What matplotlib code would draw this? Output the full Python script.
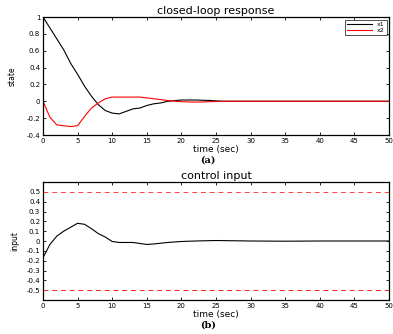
import matplotlib.pyplot as plt
import numpy as np

# closed-loop response
t_state = [0, 1, 2, 3, 4, 5, 6, 7, 8, 9, 10, 11, 12, 13, 14, 15, 16, 17, 18,
           20, 22, 24, 26, 30, 35, 40, 45, 50]
x1 = [1.0, 0.87, 0.74, 0.61, 0.45, 0.32, 0.18, 0.06, -0.04, -0.11, -0.14,
      -0.15, -0.12, -0.09, -0.08, -0.05, -0.03, -0.02, 0.0,
      0.015, 0.015, 0.01, 0.0, 0.0, 0.0, 0.0, 0.0, 0.0]
x2 = [0.0, -0.19, -0.28, -0.29, -0.30, -0.29, -0.18, -0.08, -0.02, 0.03, 0.05,
      0.05, 0.05, 0.05, 0.05, 0.04, 0.03, 0.02, 0.01,
      -0.005, -0.01, -0.005, 0.0, 0.0, 0.0, 0.0, 0.0, 0.0]

# control input
t_input = [0, 1, 2, 3, 4, 5, 6, 7, 8, 9, 10, 11, 13, 15, 16, 18, 20, 22, 25,
           30, 35, 40, 45, 50]
u = [-0.17, -0.035, 0.05, 0.10, 0.14, 0.18, 0.17, 0.125, 0.075, 0.04, -0.005,
     -0.015, -0.015, -0.035, -0.03, -0.015, -0.005, 0.0, 0.005,
     0.0, -0.002, 0.0, 0.0, 0.0]
u_limit = 0.5


def style_axes(ax):
    ax.tick_params(direction='in', length=2.5, width=0.6, labelsize=5,
                   top=True, right=True, pad=2)
    for s in ax.spines.values():
        s.set_linewidth(0.9)
    ax.set_xlim(0, 50)
    ax.set_xticks(np.arange(0, 51, 5))


fig = plt.figure(figsize=(3.93, 3.34), dpi=100)

# (a) closed-loop response
ax1 = fig.add_axes([43 / 393, 1 - 135 / 334, 346 / 393, 118 / 334])
ax1.plot(t_state, x1, color='black', lw=0.8, label='x1')
ax1.plot(t_state, x2, color='red', lw=0.8, label='x2')
style_axes(ax1)
ax1.set_ylim(-0.4, 1.0)
ax1.set_yticks([-0.4, -0.2, 0, 0.2, 0.4, 0.6, 0.8, 1])
ax1.set_yticklabels(['-0.4', '-0.2', '0', '0.2', '0.4', '0.6', '0.8', '1'])
ax1.set_title('closed-loop response', fontsize=8, pad=2)
ax1.set_xlabel('time (sec)', fontsize=6.5, labelpad=1)
ax1.set_ylabel('state', fontsize=5.5, labelpad=7)
leg = ax1.legend(loc='upper right', fontsize=4.5, frameon=True, fancybox=False,
                 edgecolor='black', borderpad=0.3, handlelength=4,
                 labelspacing=0.1, borderaxespad=0.4)
leg.get_frame().set_linewidth(0.6)
fig.text(208 / 393, 1 - 160 / 334, '(a)', ha='center', va='center',
         fontsize=7, fontweight='bold', family='DejaVu Serif')

# (b) control input
ax2 = fig.add_axes([43 / 393, 1 - 300 / 334, 346 / 393, 118 / 334])
ax2.plot(t_input, u, color='black', lw=0.8)
ax2.axhline(u_limit, color='#ff4040', lw=0.7, ls=(0, (5, 4)))
ax2.axhline(-u_limit, color='#ff2020', lw=0.7, ls=(0, (5, 4)))
style_axes(ax2)
ax2.set_ylim(-0.6, 0.6)
ticks = np.round(np.arange(-0.5, 0.51, 0.1), 1)
ax2.set_yticks(ticks)
ax2.set_yticklabels(['0' if v == 0 else f'{v:g}' for v in ticks])
ax2.set_title('control input', fontsize=8, pad=2)
ax2.set_xlabel('time (sec)', fontsize=6.5, labelpad=1)
ax2.set_ylabel('input', fontsize=5.5, labelpad=5)
fig.text(208 / 393, 1 - 325 / 334, '(b)', ha='center', va='center',
         fontsize=7, fontweight='bold', family='DejaVu Serif')

fig.savefig('out.png', dpi=100)
